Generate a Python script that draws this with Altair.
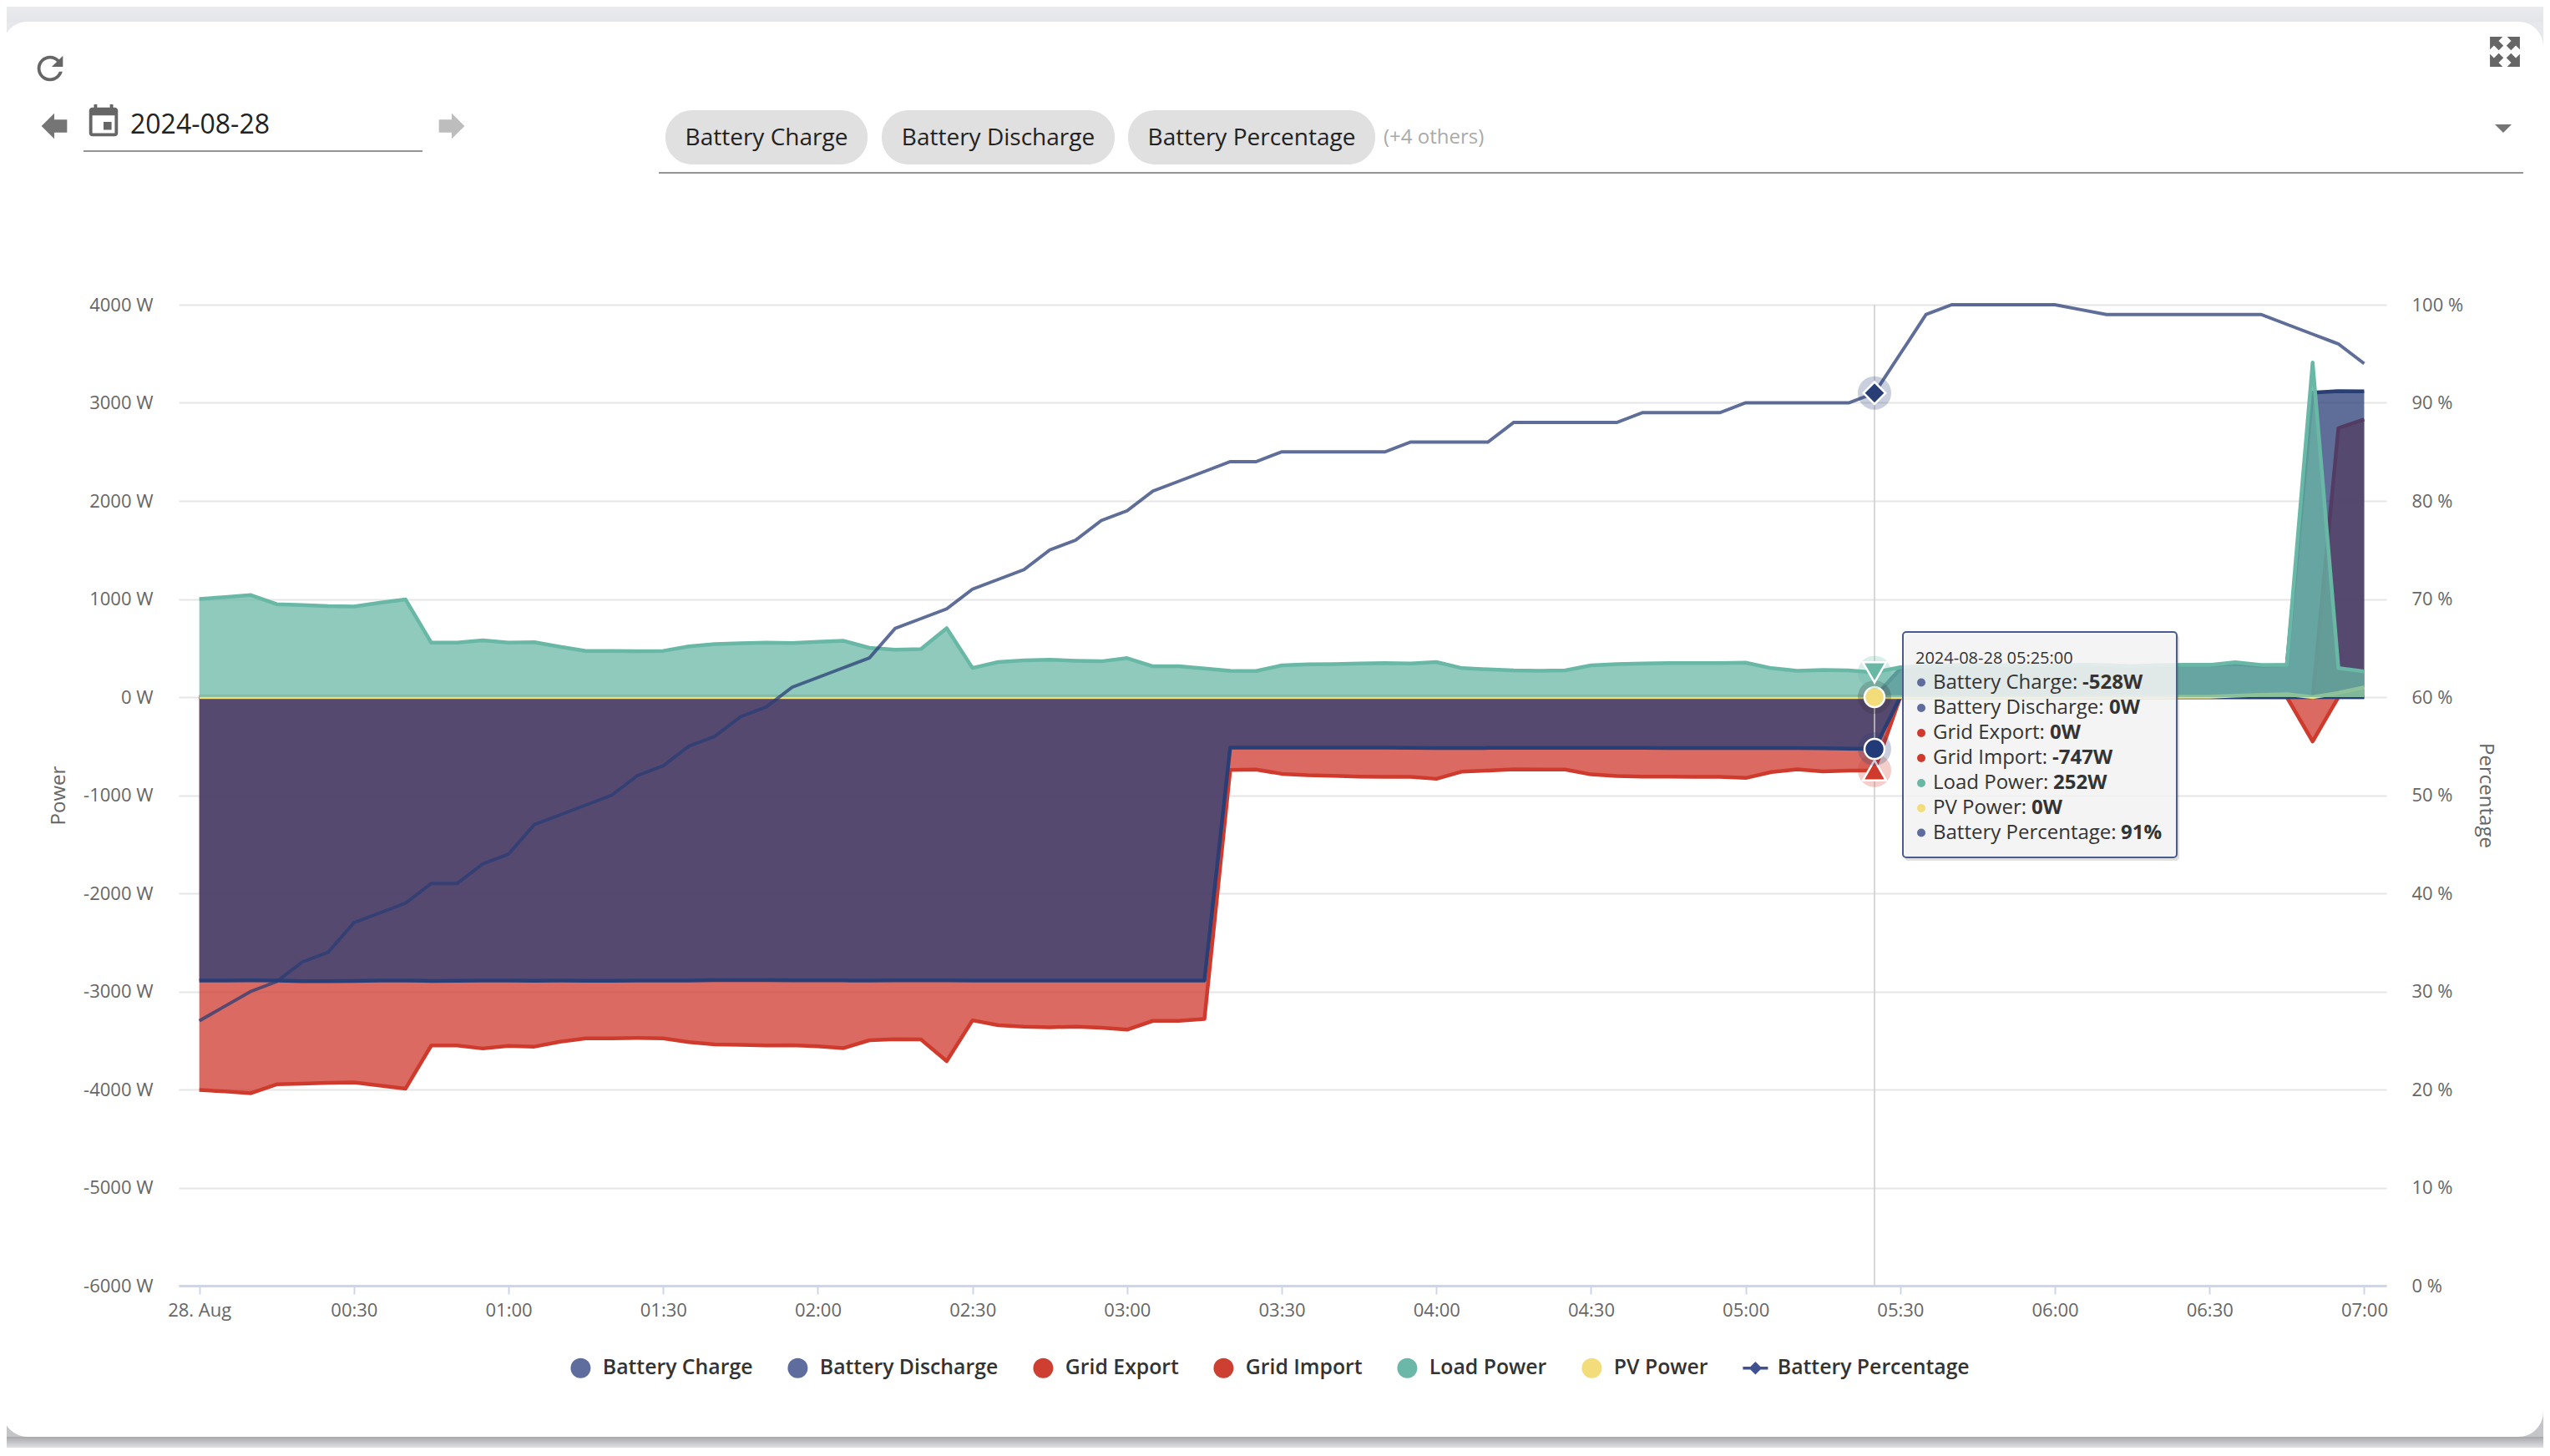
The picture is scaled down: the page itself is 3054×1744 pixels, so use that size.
import re
import altair as alt
import pandas as pd

FONT = "Open Sans"
L, TOP = 214, 365          # page position of the plot's top-left corner
W, H = 2644, 1175

SERIES = ["Battery Charge", "Battery Discharge", "Grid Export", "Grid Import", "Load Power", "PV Power", "Battery Percentage"]

battery_charge = [
    -2890, -2890, -2888, -2890, -2895, -2895, -2893, -2890, -2890, -2893,
    -2892, -2890, -2890, -2892, -2890, -2892, -2892, -2890, -2890, -2890,
    -2885, -2885, -2885, -2888, -2888, -2888, -2890, -2888, -2888, -2888,
    -2890, -2890, -2890, -2890, -2890, -2890, -2890, -2890, -2890, -2890,
    -515, -515, -515, -515, -515, -515, -515, -518, -520, -520,
    -518, -518, -518, -518, -518, -518, -518, -520, -520, -520,
    -520, -520, -520, -522, -525, -528, 0, 0, 0, 0,
    0, 0, 0, 0, 0, 0, 0, 0, 0, 0,
    0, 0, 0, 0, 0,
]
battery_discharge = [
    0, 0, 0, 0, 0, 0, 0, 0, 0, 0, 0, 0, 0, 0, 0, 0, 0, 0, 0, 0,
    0, 0, 0, 0, 0, 0, 0, 0, 0, 0, 0, 0, 0, 0, 0, 0, 0, 0, 0, 0,
    0, 0, 0, 0, 0, 0, 0, 0, 0, 0, 0, 0, 0, 0, 0, 0, 0, 0, 0, 0,
    0, 0, 0, 0, 0, 0, 290, 310, 320, 325, 320, 318, 315, 325, 320, 310,
    320, 325, 325, 340, 320, 325, 3105, 3120, 3116,
]
grid_export = [0] * 83 + [2742, 2831]
grid_import = [
    -4004, -4020, -4038, -3947, -3940, -3932, -3928, -3960, -3992, -3551,
    -3551, -3582, -3555, -3563, -3513, -3479, -3479, -3475, -3479, -3517,
    -3540, -3544, -3551, -3548, -3559, -3578, -3498, -3487, -3490, -3711,
    -3295, -3345, -3360, -3365, -3360, -3370, -3390, -3300, -3300, -3280,
    -742, -739, -782, -796, -802, -810, -813, -813, -833, -759,
    -748, -737, -739, -739, -788, -805, -810, -810, -813, -813,
    -824, -764, -737, -757, -749, -747, 0, 0, 0, 0,
    0, 0, 0, 0, 0, 0, 0, 0, 0, 0,
    0, 0, -452, 0, 0,
]
load_power = [
    1000, 1020, 1040, 947, 939, 928, 924, 962, 996, 555,
    555, 578, 555, 559, 513, 471, 471, 468, 471, 517,
    540, 548, 555, 551, 563, 574, 502, 483, 490, 703,
    297, 357, 374, 380, 371, 365, 397, 314, 314, 292,
    269, 266, 323, 334, 337, 343, 346, 343, 357, 295,
    283, 272, 269, 272, 323, 337, 343, 346, 346, 346,
    351, 295, 269, 277, 273, 252, 304, 316, 325, 330,
    325, 322, 320, 330, 325, 315, 325, 328, 328, 355,
    328, 328, 3410, 296, 261,
]
pv_power = [0] * 74 + [2, 3, 3, 4, 4, 15, 23, 30, 0, 43, 100]
battery_percentage = [
    27, 28.5, 30, 31, 33, 34, 37, 38, 39, 41,
    41, 43, 44, 47, 48, 49, 50, 52, 53, 55,
    56, 58, 59, 61, 62, 63, 64, 67, 68, 69,
    71, 72, 73, 75, 76, 78, 79, 81, 82, 83,
    84, 84, 85, 85, 85, 85, 85, 86, 86, 86,
    86, 88, 88, 88, 88, 88, 89, 89, 89, 89,
    90, 90, 90, 90, 90, 91, 95, 99, 100, 100,
    100, 100, 100, 99.5, 99, 99, 99, 99, 99, 99,
    99, 98, 97, 96, 94,
]
minutes = list(range(0, 425, 5))   # minutes after midnight, 28 Aug
hover_minute = 325

power_ticks = [4000, 3000, 2000, 1000, 0, -1000, -2000, -3000, -4000, -5000, -6000]
pct_ticks = [100, 90, 80, 70, 60, 50, 40, 30, 20, 10, 0]
time_ticks = list(range(0, 450, 30))

tooltip_header = "2024-08-28 05:25:00"
tooltip_labels = ["Battery Charge: ", "Battery Discharge: ", "Grid Export: ", "Grid Import: ", "Load Power: ", "PV Power: ", "Battery Percentage: "]
tooltip_values = ["-528W", "0W", "0W", "-747W", "252W", "0W", "91%"]
chips = ["Battery Charge", "Battery Discharge", "Battery Percentage"]

BLUE, RED, TEAL, YELLOW = "#293e75", "#cf3a2d", "#69b8a6", "#f3dc7a"
legend_colors = ["#5e6d9e", "#5e6d9e", "#cd3f30", "#cd3f30", "#6cb8a8", "#f3dc7a", "#3f5190"]

ONE = pd.DataFrame({"k": [0]})
x_enc = alt.X(
    "t:Q",
    title=None,
    scale=alt.Scale(domain=[-4, 424.3], nice=False, zero=False),
    axis=alt.Axis(
        grid=False, values=time_ticks, tickColor="#ccd6eb", tickWidth=2, tickSize=10,
        domainColor="#ccd6eb", domainWidth=3, labelColor="#666666", labelFontSize=22, labelFont=FONT, labelPadding=9,
        labelOverlap=False, labelFlush=False,
        labelExpr="datum.value==0 ? '28. Aug' : format(floor(datum.value/60),'02d') + ':' + format(datum.value%60,'02d')",
    ),
)
y_power = alt.Y(
    "value:Q",
    stack=None,
    scale=alt.Scale(domain=[-6000, 4000], nice=False),
    title="Power",
    axis=alt.Axis(
        values=power_ticks, labelExpr="datum.value + ' W'", grid=True, gridColor="#e6e6e6", gridWidth=2,
        domain=False, ticks=False, labelColor="#666666", labelFontSize=22, labelFont=FONT, labelPadding=31,
        titleFont=FONT, titleFontSize=24, titleFontWeight="normal", titleColor="#666666", titlePadding=17,
    ),
)
y_pct = alt.Y(
    "value:Q",
    stack=None,
    scale=alt.Scale(domain=[0, 100], nice=False),
    title="Percentage",
    axis=alt.Axis(
        orient="right", values=pct_ticks, labelExpr="datum.value + ' %'", grid=False,
        domain=False, ticks=False, labelColor="#666666", labelFontSize=22, labelFont=FONT, labelPadding=30,
        titleFont=FONT, titleFontSize=24, titleFontWeight="normal", titleColor="#666666", titlePadding=15,
    ),
)


def frame(values):
    return pd.DataFrame({"t": minutes, "value": values})


def band(values, color):
    d = alt.Chart(frame(values))
    return [
        d.mark_area(color=color, opacity=0.75).encode(x=x_enc, y=y_power),
        d.mark_line(color=color, strokeWidth=4.5, strokeJoin="round").encode(x=x_enc, y=y_power),
    ]


def marker(value, y, shape, color, halo_color, size=576):
    d = alt.Chart(pd.DataFrame({"t": [hover_minute], "value": [value]}))
    return [
        d.mark_point(filled=True, shape="circle", size=1600, color=halo_color, opacity=0.25).encode(x=x_enc, y=y),
        d.mark_point(filled=True, shape=shape, size=size, fill=color, stroke="white", strokeWidth=2.5, opacity=1).encode(x=x_enc, y=y),
    ]


def text(s, x, y, size, color, weight=400, align="left"):
    return alt.Chart(ONE).mark_text(
        text=s, font=FONT, fontSize=size, color=color, fontWeight=weight, align=align, baseline="middle"
    ).encode(x=alt.value(x - L), y=alt.value(y - TOP))


def box(x0, y0, x1, y1, **props):
    return alt.Chart(ONE).mark_rect(**props).encode(
        x=alt.value(x0 - L), x2=alt.value(x1 - L), y=alt.value(y0 - TOP), y2=alt.value(y1 - TOP)
    )


def rule(x0, y0, x1, y1, color, width):
    return alt.Chart(ONE).mark_rule(color=color, strokeWidth=width).encode(
        x=alt.value(x0 - L), x2=alt.value(x1 - L), y=alt.value(y0 - TOP), y2=alt.value(y1 - TOP)
    )


def glyph(shape, x, y, px, color):
    return alt.Chart(ONE).mark_point(filled=True, shape=shape, size=px * px, fill=color, opacity=1, strokeWidth=0).encode(
        x=alt.value(x - L), y=alt.value(y - TOP)
    )


def icon(path, x, y, px, color):
    """Icon path on a 24-unit grid, recentred on the -1..1 box that Vega expects."""
    out, cmd = [], ""
    for tok in re.findall(r"[A-Za-z]|-?\d*\.?\d+", path):
        if tok.isalpha():
            cmd = tok
            out.append(tok)
            continue
        v = float(tok)
        if cmd.isupper():
            v -= 12
        out.append(f"{v / 12:.4f}")
    return glyph(" ".join(out), x, y, px, color)


def fade(top, bottom):
    return alt.LinearGradient(
        gradient="linear", x1=0, x2=0, y1=0, y2=1,
        stops=[alt.GradientStop(color=top, offset=0), alt.GradientStop(color=bottom, offset=1)],
    )


DIAMOND_LINE = "M-1.25,-0.15 L-0.5,-0.15 L0,-0.65 L0.5,-0.15 L1.25,-0.15 L1.25,0.15 L0.5,0.15 L0,0.65 L-0.5,0.15 L-1.25,0.15 Z"
legend_spec = alt.Legend(
    title=None, orient="none", legendX=683 - L, legendY=1626 - TOP, columns=7, columnPadding=41,
    symbolSize=576, symbolStrokeWidth=0, symbolOpacity=1, labelFont=FONT, labelFontSize=24.8, labelFontWeight=600,
    labelColor="#333333", labelOffset=14, labelLimit=400,
)
legend_df = pd.DataFrame({"t": [minutes[0]] * 7, "value": [0] * 7, "series": SERIES})
legend_layer = alt.Chart(legend_df).mark_point(filled=True, size=0, opacity=1).encode(
    x=x_enc,
    y=y_power,
    fill=alt.Fill("series:N", scale=alt.Scale(domain=SERIES, range=legend_colors), legend=legend_spec),
    shape=alt.Shape("series:N", scale=alt.Scale(domain=SERIES, range=["circle"] * 6 + [DIAMOND_LINE]), legend=legend_spec),
)

crosshair = alt.Chart(pd.DataFrame({"t": [hover_minute]})).mark_rule(color="#cccccc", strokeWidth=1.5).encode(
    x=x_enc, y=alt.value(0), y2=alt.value(H)
)

power_group = alt.layer(
    *band(grid_export, RED),
    *band(grid_import, RED),
    *band(battery_charge, BLUE),
    *band(battery_discharge, BLUE),
    *band(pv_power, YELLOW),
    *band(load_power, TEAL),
    crosshair,
    *marker(-747, y_power, "triangle-up", RED, RED, size=780),
    *marker(-528, y_power, "circle", "#233a78", BLUE),
    *marker(0, y_power, "circle", YELLOW, "#333333"),
    *marker(252, y_power, "triangle-down", TEAL, TEAL, size=780),
    legend_layer,
)
pct_group = alt.layer(
    alt.Chart(frame(battery_percentage)).mark_line(color=BLUE, strokeWidth=4, opacity=0.75).encode(x=x_enc, y=y_pct),
    *marker(91, y_pct, "diamond", BLUE, BLUE, size=700),
)

decor = [
    box(8, 8, 3046, 26, fill=fade("#e9ebef", "#e3e5e9")),
    box(8, 1721, 3046, 1734, fill=fade("#a8a8ac", "#dfe0e4")),
    glyph("M1,-1 L-1,-1 L-1,1 A2,2 0 0 1 1,-1 Z", 18, 41, 30, "#e6e8ec"),
    glyph("M-1,-1 L1,-1 L1,1 A2,2 0 0 0 -1,-1 Z", 3031, 41, 30, "#e6e8ec"),
    glyph("M1,1 L-1,1 L-1,-1 A2,2 0 0 0 1,1 Z", 18, 1706, 30, "#c4c5c9"),
    glyph("M-1,1 L1,1 L1,-1 A2,2 0 0 1 -1,1 Z", 3031, 1706, 30, "#c4c5c9"),
    icon("M17.65 6.35C16.2 4.9 14.21 4 12 4c-4.42 0-7.99 3.58-7.99 8s3.57 8 7.99 8c3.73 0 6.84-2.55 7.73-6h-2.08c-.82 2.33-3.04 4-5.65 4-3.31 0-6-2.69-6-6s2.69-6 6-6c1.66 0 3.14.69 4.22 1.78L13 11h7V4l-2.35 2.35z",
         60, 82, 46, "#666666"),
    icon("M12 8V4l-8 8 8 8v-4h8V8z", 65, 151, 46, "#757575"),
    icon("M17 12h-5v5h5v-5zM16 1v2H8V1H6v2H5c-1.11 0-1.99.9-1.99 2L3 19c0 1.1.89 2 2 2h14c1.1 0 2-.9 2-2V5c0-1.1-.9-2-2-2h-1V1h-2zm3 18H5V8h14v11z",
         124, 146, 46, "#666666"),
    icon("M12 8V4l8 8-8 8v-4H4V8z", 541, 151, 46, "#bdbdbd"),
    icon("M2 2H10.5L7.8 4.7 11 7.9 7.9 11 4.7 7.8 2 10.5ZM22 2H13.5L16.2 4.7 13 7.9 16.1 11 19.3 7.8 22 10.5Z"
         "M2 22H10.5L7.8 19.3 11 16.1 7.9 13 4.7 16.2 2 13.5ZM22 22H13.5L16.2 19.3 13 16.1 16.1 13 19.3 16.2 22 13.5Z",
         3000, 62, 43, "#666666"),
    icon("M2 7H22L12 17Z", 2998, 154, 24, "#757575"),
    text("2024-08-28", 156, 150, 32, "#222222"),
    rule(100, 181, 506, 181, "#949494", 2),
    rule(789, 207, 3022, 207, "#949494", 2),
]
chip_edges = [(797, 1039), (1056, 1335), (1351, 1647)]
for label, (a, b) in zip(chips, chip_edges):
    decor.append(box(a, 132, b, 197, fill="#e0e0e0", cornerRadius=32))
    decor.append(text(label, (a + b) / 2, 166, 28, "#222222", align="center"))
decor.append(text("(+4 others)", 1657, 165, 24, "#aaaaaa"))

tooltip = [
    box(2281, 760, 2610, 1031, fill="#555555", opacity=0.18, cornerRadius=4),
    box(2279, 757, 2607, 1027, fill="#f7f7f7", fillOpacity=0.85, stroke="#4a5b90", strokeWidth=2, cornerRadius=4),
    text(tooltip_header, 2294, 789, 20, "#333333"),
]
row_y = [817.5, 848, 878, 908, 938, 968, 997.5]
value_x = [2494, 2526, 2455, 2458, 2459, 2433, 2540]
bullet_colors = ["#5e6d9e", "#5e6d9e", RED, RED, TEAL, YELLOW, "#5e6d9e"]
for lab, val, yy, xx, col in zip(tooltip_labels, tooltip_values, row_y, value_x, bullet_colors):
    tooltip.append(alt.Chart(ONE).mark_point(filled=True, shape="circle", size=100, fill=col, opacity=1).encode(
        x=alt.value(2301 - L), y=alt.value(yy - TOP)))
    tooltip.append(text(lab, 2315, yy, 24, "#333333"))
    tooltip.append(text(val, xx, yy, 24, "#333333", weight=700))

chart = alt.layer(power_group, pct_group, *decor, *tooltip).resolve_scale(y="independent").properties(
    width=W,
    height=H,
    background="white",
    padding={"left": L - 8, "top": TOP - 8, "right": 3046 - L - W, "bottom": 194},
    autosize=alt.AutoSizeParams(type="none"),
).configure_view(stroke=None)

chart.save("out.html", embed_options={"renderer": "svg", "actions": False})
